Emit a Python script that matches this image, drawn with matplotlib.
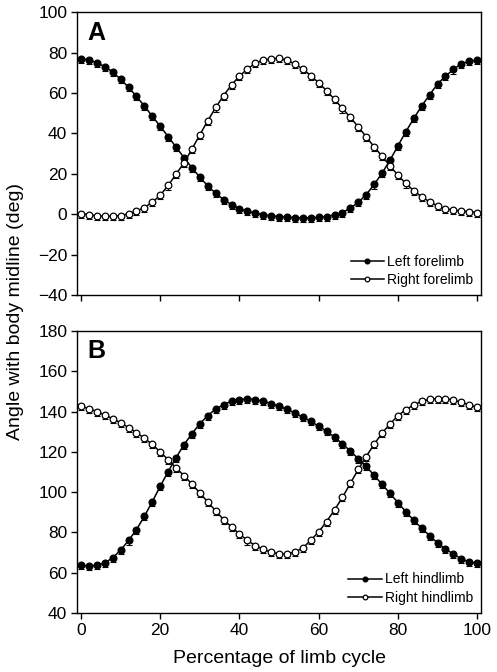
import numpy as np
import matplotlib.pyplot as plt

plt.rcParams['font.family'] = ['Liberation Sans', 'DejaVu Sans']

# percentage of limb cycle
pct = list(range(0, 101, 2))

left_fore = [77.0, 76.3, 75.0, 73.0, 70.3, 66.8, 62.8, 58.3, 53.5, 48.5,
             43.5, 38.4, 33.2, 28.0, 23.0, 18.3, 14.0, 10.3, 7.2, 4.7,
             2.8, 1.4, 0.5, -0.3, -0.8, -1.2, -1.5, -1.7, -1.8, -1.8,
             -1.6, -1.2, -0.3, 0.8, 3.0, 5.8, 9.7, 14.7, 20.3, 26.7,
             33.8, 40.8, 47.4, 53.5, 59.1, 64.4, 68.3, 71.6, 74.4, 75.7, 76.2]
right_fore = [0.3, -0.3, -0.8, -1.0, -1.0, -0.7, 0.2, 1.5, 3.3, 5.9,
              9.4, 14.2, 19.8, 25.4, 32.2, 39.3, 46.2, 52.8, 58.7, 64.0,
              68.3, 71.9, 74.6, 76.2, 76.9, 77.1, 76.2, 74.3, 71.8, 68.6,
              65.0, 61.1, 56.8, 52.3, 47.9, 43.2, 38.3, 33.3, 28.7, 23.9,
              19.3, 15.2, 11.6, 8.6, 6.1, 4.1, 2.8, 2.0, 1.5, 1.3, 0.8]
left_hind = [63.6, 63.3, 63.6, 64.9, 67.4, 71.2, 76.0, 81.4, 88.0, 95.3,
             102.9, 110.2, 117.1, 123.6, 129.0, 134.0, 138.0, 141.3, 143.4, 145.2,
             146.0, 146.3, 146.0, 145.1, 144.0, 142.6, 141.2, 139.3, 137.2, 135.2,
             132.7, 130.3, 127.3, 124.0, 120.4, 116.6, 112.8, 108.3, 103.9, 99.4,
             94.8, 90.3, 86.0, 82.1, 78.4, 74.8, 71.8, 69.2, 66.9, 65.4, 64.6]
right_hind = [142.6, 141.5, 140.0, 138.3, 136.5, 134.4, 132.1, 129.5, 126.8, 123.7,
              120.0, 116.1, 112.1, 108.2, 104.0, 99.6, 95.1, 90.7, 86.4, 82.7,
              79.3, 76.0, 73.5, 71.6, 70.2, 69.4, 69.4, 70.2, 72.3, 76.1,
              80.3, 85.4, 91.2, 97.4, 104.4, 111.3, 117.7, 123.8, 129.3, 133.9,
              137.9, 141.0, 143.3, 145.1, 146.1, 146.4, 146.4, 145.8, 144.6, 143.3, 142.1]

# approximate s.e.m. (deg)
sem = 2.0

fig = plt.figure(figsize=(4.97, 6.72), dpi=100)
axA = fig.add_axes([0.155, 0.561, 0.813, 0.421])
axB = fig.add_axes([0.155, 0.0878, 0.813, 0.4196])


def draw(ax, filled, hollow, lab1, lab2):
    n = len(pct)
    err = [[sem] * n, [0] * n]
    ax.errorbar(pct, filled, yerr=err, fmt='none', ecolor='k', elinewidth=0.8,
                capsize=2, capthick=0.8, zorder=2)
    ax.errorbar(pct, hollow, yerr=err, fmt='none', ecolor='k', elinewidth=0.8,
                capsize=2, capthick=0.8, zorder=2)
    ax.plot(pct, filled, '-o', color='k', lw=1.1, ms=4.8, mfc='k', mec='k',
            label=lab1, zorder=3)
    ax.plot(pct, hollow, '-o', color='k', lw=1.1, ms=4.8, mfc='white', mec='k',
            mew=0.9, label=lab2, zorder=4)
    ax.set_xlim(-1, 101)
    ax.set_xticks(range(0, 101, 20))
    for s in ax.spines.values():
        s.set_linewidth(1.0)
    ax.tick_params(direction='out', length=4, width=1.0, labelsize=12.5, pad=3)
    ax.legend(loc='lower right', frameon=False, fontsize=10, handlelength=2.4,
              handletextpad=0.2, labelspacing=0.3, markerscale=0.7,
              borderaxespad=0.2)


draw(axA, left_fore, right_fore, 'Left forelimb', 'Right forelimb')
axA.set_ylim(-40, 100)
axA.set_yticks(range(-40, 101, 20))
axA.set_yticklabels(['\u221240', '\u221220', '0', '20', '40', '60', '80', '100'])
axA.tick_params(axis='x', labelbottom=False)
axA.text(0.025, 0.97, 'A', transform=axA.transAxes, fontsize=18,
         fontweight='bold', va='top', ha='left')

draw(axB, left_hind, right_hind, 'Left hindlimb', 'Right hindlimb')
axB.set_ylim(40, 180)
axB.set_yticks(range(40, 181, 20))
axB.set_xlabel('Percentage of limb cycle', fontsize=14, labelpad=9)
axB.text(0.025, 0.97, 'B', transform=axB.transAxes, fontsize=18,
         fontweight='bold', va='top', ha='left')

fig.text(0.032, 0.536, 'Angle with body midline (deg)', rotation=90,
         fontsize=14, ha='center', va='center')

fig.savefig('out.png', dpi=100)
